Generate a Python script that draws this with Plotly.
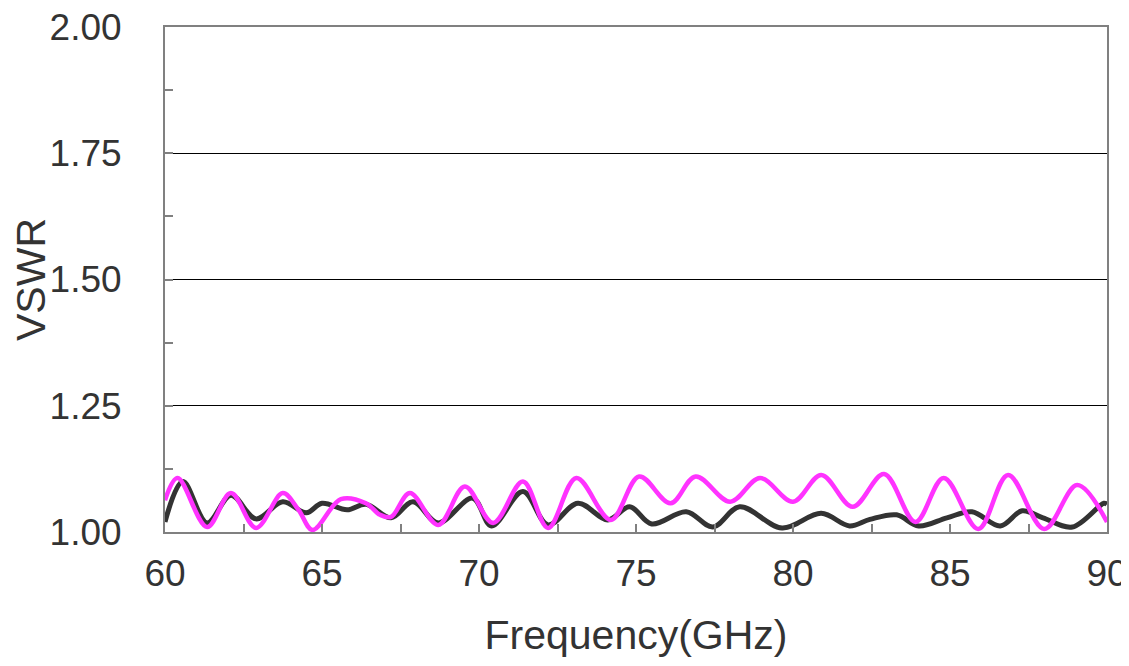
import plotly.graph_objects as go

# Black curve (frequency GHz, VSWR)
black_freq = [60.0, 60.57, 61.34, 62.1, 62.9, 63.75, 64.5, 65.0, 65.8, 66.4, 67.2, 67.9, 68.7, 69.8,
              70.4, 71.4, 72.2, 73.15, 74.1, 74.8, 75.5, 76.6, 77.45, 78.3, 79.65, 80.9, 81.8, 82.45,
              83.3, 84.0, 84.9, 85.7, 86.6, 87.3, 87.96, 88.9, 89.9, 90.0]
black_vswr = [1.02, 1.10, 1.018, 1.073, 1.026, 1.06, 1.038, 1.057, 1.044, 1.055, 1.028, 1.06, 1.018, 1.067,
              1.012, 1.08, 1.014, 1.057, 1.024, 1.05, 1.016, 1.04, 1.01, 1.05, 1.008, 1.037, 1.012, 1.025,
              1.034, 1.012, 1.028, 1.04, 1.012, 1.042, 1.028, 1.01, 1.057, 1.055]

# Magenta curve
mag_freq = [60.0, 60.4, 61.34, 62.1, 62.9, 63.75, 64.25, 64.7, 65.6, 66.4, 66.85, 67.2, 67.8, 68.7, 69.55,
            70.45, 71.4, 72.2, 73.1, 74.2, 75.1, 76.1, 76.9, 78.0, 78.95, 80.0, 80.9, 81.9, 82.9, 83.9,
            84.8, 85.9, 86.85, 88.0, 89.05, 90.0]
mag_vswr = [1.063, 1.107, 1.01, 1.077, 1.008, 1.077, 1.044, 1.004, 1.065, 1.057, 1.034, 1.03, 1.077, 1.014, 1.09,
            1.018, 1.1, 1.008, 1.107, 1.024, 1.11, 1.057, 1.11, 1.06, 1.107, 1.06, 1.113, 1.05, 1.115, 1.02,
            1.107, 1.006, 1.113, 1.006, 1.093, 1.02]

x_ticks = [60, 65, 70, 75, 80, 85, 90]
y_ticks = [1.00, 1.25, 1.50, 1.75, 2.00]
y_labels = ["1.00", "1.25", "1.50", "1.75", "2.00"]

fig = go.Figure()
fig.add_trace(go.Scatter(x=black_freq, y=black_vswr, mode="lines",
                         line=dict(color="#333333", width=5, shape="spline", smoothing=1.0),
                         showlegend=False, cliponaxis=True))
fig.add_trace(go.Scatter(x=mag_freq, y=mag_vswr, mode="lines",
                         line=dict(color="#FF33FF", width=4.5, shape="spline", smoothing=1.0),
                         showlegend=False, cliponaxis=True))

font_family = "Liberation Sans, Arial, sans-serif"
fig.update_layout(
    width=1129, height=666,
    margin=dict(l=157, r=30, t=19, b=142),
    paper_bgcolor="white", plot_bgcolor="white",
    font=dict(family=font_family, color="#333333"),
    xaxis=dict(
        range=[60, 90], tickvals=x_ticks, ticktext=[str(v) for v in x_ticks],
        ticks="inside", ticklen=8, tickcolor="#808080", tickwidth=1.5,
        minor=dict(dtick=2.5, tick0=60, ticks="inside", ticklen=8, tickcolor="#808080", tickwidth=1.5, showgrid=False),
        showline=True, linecolor="#808080", linewidth=2, mirror=True,
        showgrid=False, zeroline=False, automargin=False, ticklabeloverflow="allow",
        tickfont=dict(size=37, color="#333333"),
        ticklabelstandoff=8,
        title=dict(text="Frequency(GHz)", font=dict(size=41, color="#333333"), standoff=27),
    ),
    yaxis=dict(
        range=[1.0, 2.0], tickvals=y_ticks, ticktext=y_labels,
        ticks="inside", ticklen=8, tickcolor="#808080", tickwidth=1.5,
        minor=dict(dtick=0.125, tick0=1.0, ticks="inside", ticklen=8, tickcolor="#808080", tickwidth=1.5, showgrid=False),
        showline=True, linecolor="#808080", linewidth=2, mirror=True,
        showgrid=True, gridcolor="#000000", gridwidth=1, zeroline=False, automargin=False,
        ticklabeloverflow="allow",
        tickfont=dict(size=37, color="#333333"),
        ticklabelstandoff=34,
        title=dict(text="VSWR", font=dict(size=41, color="#333333"), standoff=0),
    ),
)

fig.write_html("out.html")
